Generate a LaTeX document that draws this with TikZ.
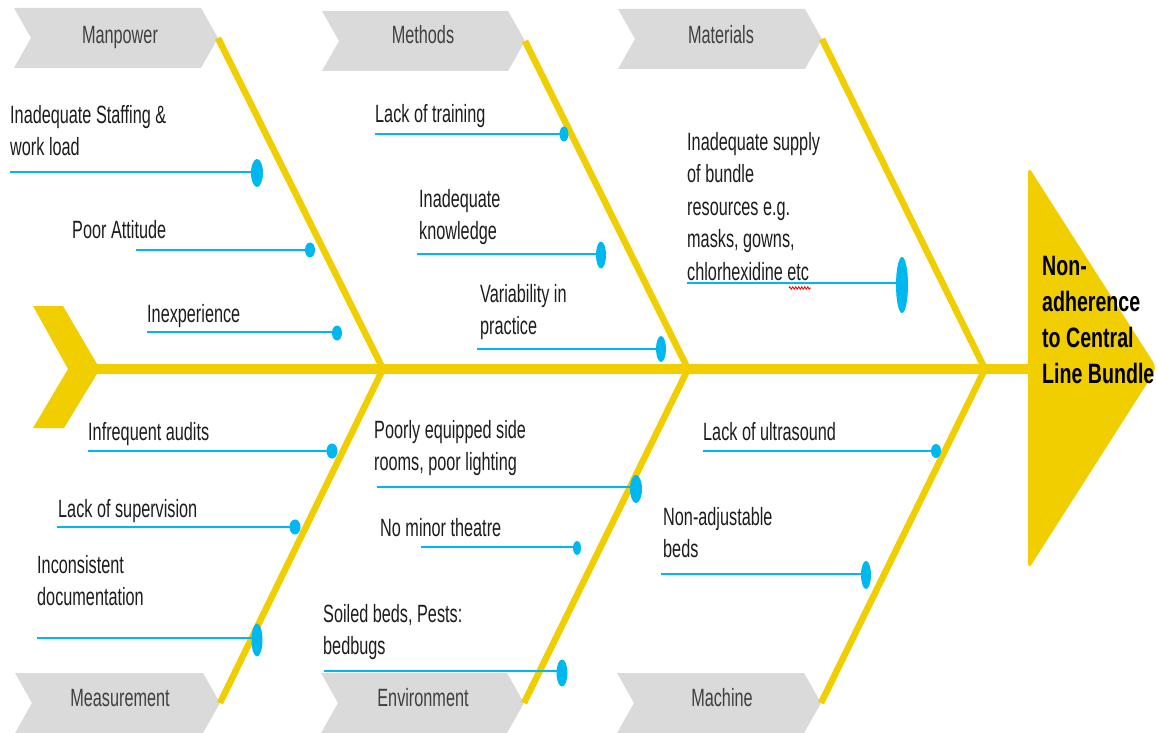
\documentclass[tikz,border=0pt]{standalone}
\usepackage{fontspec}
\setmainfont[FakeStretch=0.65]{Liberation Sans}
\newfontfamily\headfont[FakeStretch=0.70]{Liberation Sans}
\usetikzlibrary{shapes.geometric,decorations.pathmorphing}

\definecolor{boneyel}{RGB}{240,206,0}
\definecolor{causeblue}{RGB}{0,184,240}
\definecolor{chevgray}{RGB}{218,218,218}
\definecolor{chevtext}{RGB}{64,64,64}
\definecolor{labeltext}{RGB}{28,28,28}

\newcommand\lblfont{\fontsize{25}{32.5}\selectfont}
\newcommand\topstrut{\rule{0pt}{23pt}}
% category banner: left x, top y, width, name of the tip coordinate
\newcommand\chevshape[4]{%
  \fill[chev] (#1,#2) -- ++(#3-17,0) -- ++(17,30) coordinate (#4)
    -- ++(-17,30) -- ++(-#3+17,0) -- ++(17,-30) -- cycle;}

\begin{document}
\begin{tikzpicture}[x=1pt,y=-1pt,
  bone/.style={draw=boneyel, line width=6.5pt},
  spineline/.style={draw=boneyel, line width=10pt},
  chev/.style={fill=chevgray},
  chevlbl/.style={anchor=base, inner sep=0pt, text=chevtext, font=\lblfont},
  lbl/.style={anchor=north west, inner sep=0pt, align=left, text=labeltext, font=\lblfont},
  cause/.style={draw=causeblue, line width=2.2pt},
  dot/.style 2 args={ellipse, fill=causeblue, inner sep=0pt, minimum width=#1, minimum height=#2},
]
\useasboundingbox (0,0) rectangle (1157,733);
\clip (0,0) rectangle (1157,733);

% category banners
\chevshape{14}{8}{204}{tMP}
\chevshape{322}{11}{203}{tMT}
\chevshape{618}{9}{204}{tMA}
\chevshape{15}{673}{205}{tME}
\chevshape{321}{673}{203}{tEN}
\chevshape{617}{673}{204}{tMC}

\node[chevlbl] (manpower) at (120,44) {Manpower};
\node[chevlbl] (methods) at (423,44) {Methods};
\node[chevlbl] (materials) at (721,44) {Materials};
\node[chevlbl] (measurement) at (120,706) {Measurement};
\node[chevlbl] (environment) at (423,706) {Environment};
\node[chevlbl] (machine) at (722,706) {Machine};

% spine, tail and head
\coordinate (j1) at (383,369);
\coordinate (j2) at (688,369);
\coordinate (j3) at (985,369);
\coordinate (tailT) at (92,369);
\coordinate (headL) at (1030,369);
\fill[boneyel] (33,306) -- (63,306) -- (100,369) -- (64,428) -- (33,428) -- (68,369) -- cycle;
\draw[spineline] (tailT) -- (headL);
\fill[boneyel, rounded corners=7pt] (1028,166) -- (1157,368) -- (1028,570) -- cycle;

% bones
\draw[bone] (tMP) -- (j1);
\draw[bone] (tMT) -- (j2);
\draw[bone] (tMA) -- (j3);
\draw[bone] (j1) -- (tME);
\draw[bone] (j2) -- (tEN);
\draw[bone] (j3) -- (tMC);

% effect
\node[anchor=north west, inner sep=0pt, align=left, text=black,
      font=\headfont\bfseries\fontsize{28}{36}\selectfont] (effect) at (1042,250)
  {\rule{0pt}{25pt}Non-\\adherence\\to Central\\Line Bundle};

% cause labels
\node[lbl] (c1) at (10,100) {\topstrut Inadequate Staffing \&\\work load};
\node[lbl] (c2) at (72,215) {\topstrut Poor Attitude};
\node[lbl] (c3) at (147,299) {\topstrut Inexperience};
\node[lbl] (c4) at (375,99) {\topstrut Lack of training};
\node[lbl] (c5) at (419,184) {\topstrut Inadequate\\knowledge};
\node[lbl] (c6) at (480,279) {\topstrut Variability in\\practice};
\node[lbl] (c7) at (687,127) {\topstrut Inadequate supply\\of bundle\\resources e.g.\\masks, gowns,\\chlorhexidine etc};
\node[lbl] (c8) at (88,417) {\topstrut Infrequent audits};
\node[lbl] (c9) at (58,494) {\topstrut Lack of supervision};
\node[lbl] (c10) at (37,550) {\topstrut Inconsistent\\documentation};
\node[lbl] (c11) at (374,415) {\topstrut Poorly equipped side\\rooms, poor lighting};
\node[lbl] (c12) at (380,513) {\topstrut No minor theatre};
\node[lbl] (c13) at (323,599) {\topstrut Soiled beds, Pests:\\bedbugs};
\node[lbl] (c14) at (703,417) {\topstrut Lack of ultrasound};
\node[lbl] (c15) at (663,502) {\topstrut Non-adjustable\\beds};

% spelling squiggle under "etc"
\draw[red, line width=0.8pt, decorate, decoration={zigzag, amplitude=1.3pt, segment length=3pt}]
  (789,288) -- (811,288);

% cause lines with end markers
\coordinate (s1) at (10,172);   \node[dot={12pt}{28pt}] (d1) at (257,173) {};
\coordinate (s2) at (136,250);  \node[dot={10pt}{15pt}] (d2) at (310,250) {};
\coordinate (s3) at (147,332);  \node[dot={10pt}{15pt}] (d3) at (337,333) {};
\coordinate (s4) at (375,134);  \node[dot={9pt}{15pt}]  (d4) at (564,134) {};
\coordinate (s5) at (417,254);  \node[dot={10pt}{27pt}] (d5) at (601,255) {};
\coordinate (s6) at (477,349);  \node[dot={10pt}{26pt}] (d6) at (661,349) {};
\coordinate (s7) at (687,283);  \node[dot={12pt}{56pt}] (d7) at (902,285) {};
\coordinate (s8) at (88,451);   \node[dot={11pt}{15pt}] (d8) at (332,451) {};
\coordinate (s9) at (57,527);   \node[dot={11pt}{15pt}] (d9) at (295,527) {};
\coordinate (s10) at (37,638);  \node[dot={11pt}{33pt}] (d10) at (257,640) {};
\coordinate (s11) at (377,487); \node[dot={12pt}{28pt}] (d11) at (636,489) {};
\coordinate (s12) at (421,547); \node[dot={8pt}{14pt}]  (d12) at (577,548) {};
\coordinate (s13) at (324,671); \node[dot={11pt}{27pt}] (d13) at (562,673) {};
\coordinate (s14) at (703,451); \node[dot={10pt}{14pt}] (d14) at (936,451) {};
\coordinate (s15) at (661,574); \node[dot={10pt}{28pt}] (d15) at (866,575) {};

\foreach \i in {1,...,15} {\draw[cause] (s\i) -- (s\i -| d\i);}
\end{tikzpicture}
\end{document}
